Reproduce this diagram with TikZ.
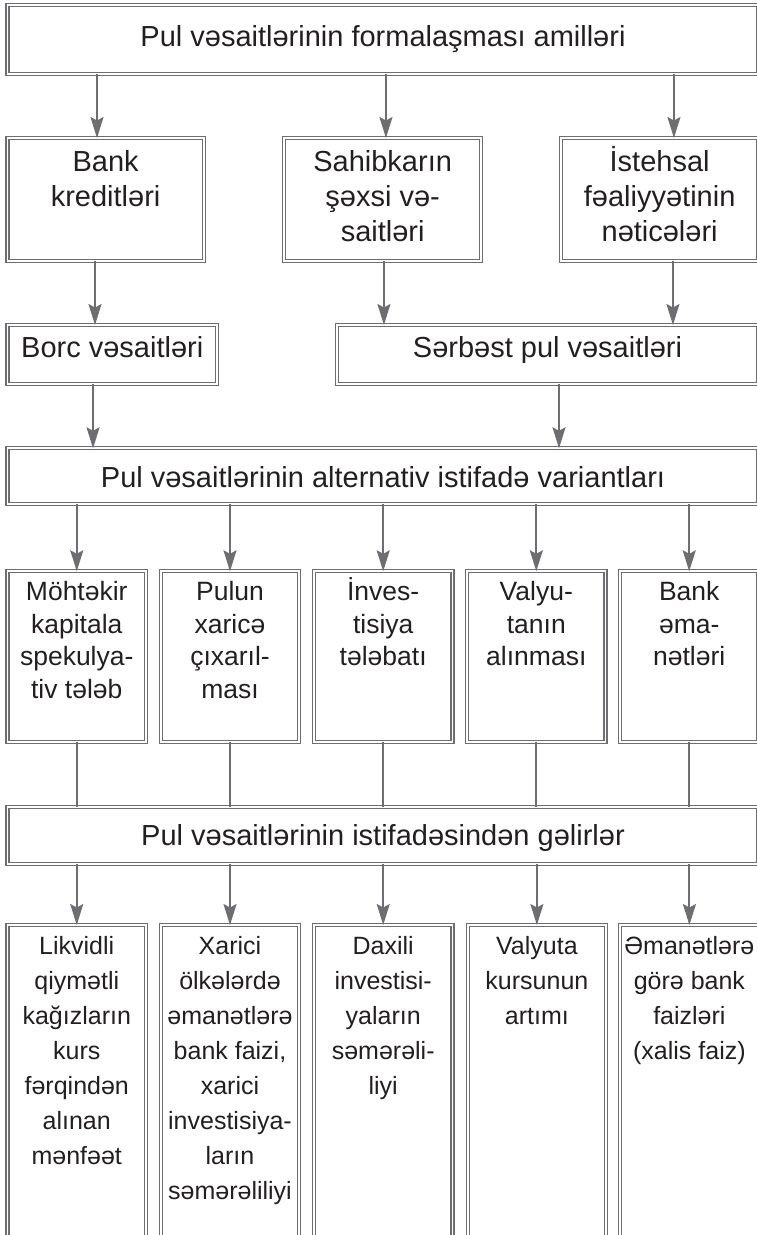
\documentclass[tikz,border=0pt]{standalone}
\usepackage{fontspec}
\setmainfont{Liberation Sans}
\usetikzlibrary{arrows.meta}
\definecolor{linegray}{HTML}{6D6E71}
\definecolor{ink}{HTML}{231F20}
% stacked centred lines whose baseline is the first line's baseline
\newcommand\toplines[1]{\begin{tabular}[t]{@{}c@{}}#1\end{tabular}}
\begin{document}
\begin{tikzpicture}[x=1pt,y=-1pt,
  dbox/.style={draw=linegray, double=white, double distance=1.8pt, line width=1.2pt,
    inner sep=0pt, outer sep=0pt},
  flow/.style={draw=linegray, line width=1.9pt,
    -{Stealth[length=21pt,width=13pt,inset=3.5pt]}},
  link/.style={draw=linegray, line width=1.9pt},
  lbl/.style={text=ink, inner sep=0pt, anchor=base},
  big/.style={font=\fontsize{29}{35}\selectfont},
  mid/.style={font=\fontsize{26.5}{32.5}\selectfont},
  small/.style={font=\fontsize{25}{35}\selectfont}
]
\useasboundingbox (0,0) rectangle (757,1235);

% ---- boxes ----
\node[dbox, minimum width=750.5pt, minimum height=69pt]   (top)   at (382.75,39.5) {};
\node[dbox, minimum width=196.2pt, minimum height=123pt]  (bank)  at (105.6,199.5) {};
\node[dbox, minimum width=196.7pt, minimum height=123pt]  (sahib) at (382.65,199.5) {};
\node[dbox, minimum width=196.7pt, minimum height=123pt]  (isteh) at (659.65,199.5) {};
\node[dbox, minimum width=209.5pt, minimum height=59pt]   (borc)  at (112.25,354.5) {};
\node[dbox, minimum width=421pt,   minimum height=59pt]   (serb)  at (547.5,354.5) {};
\node[dbox, minimum width=750.5pt, minimum height=55.7pt] (alt)   at (382.75,476.15) {};
\foreach \n/\cx in {o1/76.75, o2/230, o3/383.2, o4/536.3, o5/689.2}
  \node[dbox, minimum width=138.5pt, minimum height=170.4pt] (\n) at (\cx,656.5) {};
\node[dbox, minimum width=750.5pt, minimum height=57.3pt] (gel)   at (382.75,835.35) {};
\foreach \n/\cx in {r1/76.75, r2/230, r3/383.2, r4/536.9, r5/689.4}
  \node[dbox, minimum width=138.5pt, minimum height=320pt] (\n) at (\cx,1085) {};

% ---- texts ----
\node[lbl, big] (top-t)   at (383,46.7)   {Pul vəsaitlərinin formalaşması amilləri};
\node[lbl, big] (bank-t)  at (105.6,171)  {\toplines{Bank\\kreditləri}};
\node[lbl, big] (sahib-t) at (382.65,171) {\toplines{Sahibkarın\\şəxsi və-\\saitləri}};
\node[lbl, big] (isteh-t) at (659.65,171) {\toplines{İstehsal\\fəaliyyətinin\\nəticələri}};
\node[lbl, big] (borc-t)  at (112.25,357.3) {Borc vəsaitləri};
\node[lbl, big] (serb-t)  at (547.5,357.3)  {Sərbəst pul vəsaitləri};
\node[lbl, big] (alt-t)   at (383,487)    {Pul vəsaitlərinin alternativ istifadə variantları};
\node[lbl, mid] (o1-t) at (76.75,600.7) {\toplines{Möhtəkir\\kapitala\\spekulya-\\tiv tələb}};
\node[lbl, mid] (o2-t) at (230,600.7)   {\toplines{Pulun\\xaricə\\çıxarıl-\\ması}};
\node[lbl, mid] (o3-t) at (383.2,600.7) {\toplines{İnves-\\tisiya\\tələbatı}};
\node[lbl, mid] (o4-t) at (536.3,600.7) {\toplines{Valyu-\\tanın\\alınması}};
\node[lbl, mid] (o5-t) at (689.2,600.7) {\toplines{Bank\\əma-\\nətləri}};
\node[lbl, big] (gel-t)   at (383,845.5)  {Pul vəsaitlərinin istifadəsindən gəlirlər};
\node[lbl, small] (r1-t) at (76.75,954) {\toplines{Likvidli\\qiymətli\\kağızların\\kurs\\fərqindən\\alınan\\mənfəət}};
\node[lbl, small] (r2-t) at (230,954)   {\toplines{Xarici\\ölkələrdə\\əmanətlərə\\bank faizi,\\xarici\\investisiya-\\ların\\səmərəliliyi}};
\node[lbl, small] (r3-t) at (383.2,954) {\toplines{Daxili\\investisi-\\yaların\\səmərəli-\\liyi}};
\node[lbl, small] (r4-t) at (536.9,954) {\toplines{Valyuta\\kursunun\\artımı}};
\node[lbl, small] (r5-t) at (689.4,954) {\toplines{Əmanətlərə\\görə bank\\faizləri\\(xalis faiz)}};

% ---- connectors ----
\draw[flow] ([xshift=-8.6pt]bank.north |- top.south)  -- ([xshift=-8.6pt]bank.north);
\draw[flow] ([xshift=3.3pt]sahib.north |- top.south)  -- ([xshift=3.3pt]sahib.north);
\draw[flow] ([xshift=14.3pt]isteh.north |- top.south) -- ([xshift=14.3pt]isteh.north);
\draw[flow] ([xshift=-10.6pt]bank.south) -- ([xshift=-10.6pt]bank.south |- borc.north);
\draw[flow] ([xshift=1.3pt]sahib.south)  -- ([xshift=1.3pt]sahib.south |- serb.north);
\draw[flow] ([xshift=13.3pt]isteh.south) -- ([xshift=13.3pt]isteh.south |- serb.north);
\draw[flow] ([xshift=-19.2pt]borc.south) -- ([xshift=-19.2pt]borc.south |- alt.north);
\draw[flow] ([xshift=11.5pt]serb.south)  -- ([xshift=11.5pt]serb.south |- alt.north);
\foreach \n in {o1,o2,o3,o4,o5} {
  \draw[flow] (alt.south -| \n.north) -- (\n.north);
  \draw[link] (\n.south) -- (\n.south |- gel.north);
}
\foreach \n in {r1,r2,r3,r4,r5}
  \draw[flow] (gel.south -| \n.north) -- (\n.north);
\end{tikzpicture}
\end{document}
